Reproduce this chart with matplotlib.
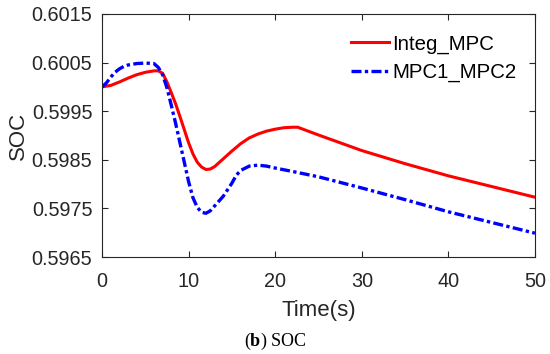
import matplotlib
matplotlib.use("Agg")
import matplotlib.pyplot as plt
from matplotlib.ticker import MultipleLocator

plt.rcParams['font.family'] = ['Liberation Sans', 'DejaVu Sans']
plt.rcParams['mathtext.fontset'] = 'custom'
plt.rcParams['mathtext.bf'] = 'Liberation Serif:bold'
plt.rcParams['mathtext.rm'] = 'Liberation Serif'

# Integ_MPC (red)
t_integ = [0, 1, 2, 3, 4, 5, 6, 6.5, 7, 7.5, 8, 8.5, 9, 9.5, 10, 10.5, 11, 11.5,
           12, 12.5, 13, 14, 15, 16, 17, 18, 19, 20, 21, 22, 22.6, 25, 30, 35,
           40, 45, 50]
soc_integ = [0.60000, 0.60003, 0.60010, 0.60018, 0.60025, 0.60030, 0.60033,
             0.60033, 0.60028, 0.60010, 0.59988, 0.59965, 0.59939, 0.59912,
             0.59885, 0.59862, 0.59845, 0.59835, 0.59830, 0.59831, 0.59836,
             0.59852, 0.59868, 0.59883, 0.59895, 0.59903, 0.59909, 0.59913,
             0.59916, 0.59917, 0.59917, 0.59901, 0.59869, 0.59842, 0.59817,
             0.59795, 0.59773]

# MPC1_MPC2 (blue)
t_mpc = [0, 0.5, 1, 1.5, 2, 2.5, 3, 4, 5, 6, 6.5, 7, 7.5, 8, 8.5, 9, 9.5, 10,
         10.5, 11, 11.5, 12, 12.5, 13, 14, 15, 15.5, 16, 17, 18, 19, 20, 22,
         25, 30, 35, 40, 45, 50]
soc_mpc = [0.60000, 0.60008, 0.60020, 0.60030, 0.60037, 0.60042, 0.60045,
           0.60048, 0.60049, 0.60048, 0.60040, 0.60025, 0.59998, 0.59962,
           0.59925, 0.59885, 0.59845, 0.59805, 0.59772, 0.59752, 0.59742,
           0.59740, 0.59745, 0.59755, 0.59775, 0.59802, 0.59818, 0.59828,
           0.59837, 0.59839, 0.59837, 0.59833, 0.59826, 0.59815, 0.59792,
           0.59768, 0.59743, 0.59721, 0.59699]

fig = plt.figure(figsize=(5.5, 3.54), dpi=100)
ax = fig.add_axes([0.1855, 0.274, 0.7872, 0.6865])

ax.plot(t_integ, soc_integ, color='#ff0000', lw=2.2, label='Integ_MPC')
ax.plot(t_mpc, soc_mpc, color='#0000ff', lw=2.4, linestyle=(0, (3, 1, 1, 1)),
        label='MPC1_MPC2')

ax.set_xlim(0, 50)
ax.set_ylim(0.5965, 0.6015)
ax.xaxis.set_major_locator(MultipleLocator(10))
ax.set_yticks([0.5965, 0.5975, 0.5985, 0.5995, 0.6005, 0.6015])
ax.set_yticklabels(['0.5965', '0.5975', '0.5985', '0.5995', '0.6005', '0.6015'])
ax.tick_params(direction='in', top=True, right=True, labelsize=14.3,
               length=4, width=0.8, colors='#262626', labelcolor='#262626')
ax.tick_params(axis='x', pad=11)
ax.tick_params(axis='y', pad=7)
for s in ax.spines.values():
    s.set_color('#262626')
    s.set_linewidth(0.8)

ax.set_xlabel('Time(s)', fontsize=16, color='#262626', labelpad=6)
ax.set_ylabel('SOC', fontsize=16, color='#262626', labelpad=2)

ax.legend(loc='upper right', frameon=False, fontsize=14.7, handlelength=1.85,
          handletextpad=0.15, labelspacing=0.45, borderaxespad=0.3,
          bbox_to_anchor=(0.99, 0.975))

fig.text(0.5, 0.035, r'($\mathbf{b}$) SOC', ha='center', va='center',
         fontsize=13, family='Liberation Serif')

fig.savefig('out.png', dpi=100)
